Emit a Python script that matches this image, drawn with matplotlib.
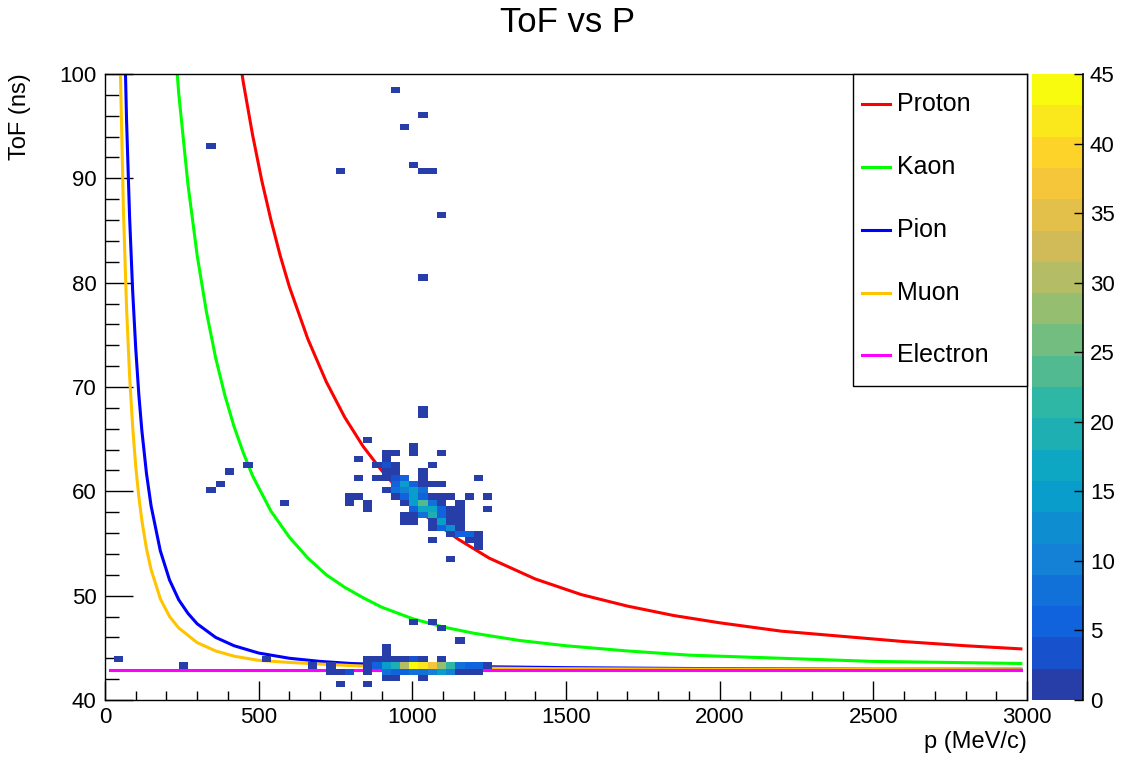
import numpy as np
import matplotlib
matplotlib.use("Agg")
import matplotlib.pyplot as plt
from matplotlib.colors import LinearSegmentedColormap, ListedColormap, BoundaryNorm
from matplotlib.lines import Line2D
from matplotlib.patches import Rectangle
from matplotlib.ticker import MultipleLocator

plt.rcParams['font.family'] = ['Liberation Sans', 'DejaVu Sans']

# ---------------- data: theory curves ----------------
proton_p = [420, 450, 480, 510, 540, 570, 600, 660, 720, 780, 840, 900, 960, 1050,
            1150, 1250, 1400, 1550, 1700, 1850, 2000, 2200, 2400, 2600, 2800, 2980]
proton_tof = [105.0, 99.2, 94.2, 89.8, 86.0, 82.6, 79.6, 74.6, 70.5, 67.1, 64.3, 62.0,
              60.0, 57.5, 55.4, 53.6, 51.6, 50.1, 49.0, 48.1, 47.4, 46.6, 46.1, 45.6,
              45.2, 44.9]

kaon_p = [210, 240, 270, 300, 330, 360, 390, 420, 450, 480, 540, 600, 660, 720, 780,
          840, 900, 1000, 1100, 1200, 1350, 1500, 1700, 1900, 2100, 2300, 2500, 2750, 2980]
kaon_tof = [109.6, 98.1, 89.4, 82.6, 77.2, 72.8, 69.2, 66.2, 63.7, 61.5, 58.1, 55.6,
            53.6, 52.0, 50.8, 49.8, 48.9, 47.8, 47.0, 46.4, 45.7, 45.2, 44.7, 44.3,
            44.1, 43.9, 43.7, 43.6, 43.5]

pion_p = [60, 70, 80, 90, 100, 110, 120, 135, 150, 180, 210, 240, 270, 300, 360, 420,
          500, 600, 700, 800, 1000, 1200, 1500, 2000, 2500, 2980]
pion_tof = [108.6, 95.7, 86.3, 79.2, 73.7, 69.3, 65.8, 61.7, 58.6, 54.3, 51.5, 49.6,
            48.3, 47.3, 46.0, 45.2, 44.5, 44.0, 43.7, 43.5, 43.3, 43.2, 43.1, 43.0,
            42.95, 42.95]

muon_p = [45, 50, 60, 70, 80, 90, 100, 110, 120, 135, 150, 180, 210, 240, 300, 360,
          420, 500, 600, 800, 1000, 1500, 2000, 2980]
muon_tof = [109.5, 100.3, 86.9, 77.7, 71.1, 66.2, 62.4, 59.5, 57.2, 54.5, 52.5, 49.7,
            48.0, 46.9, 45.5, 44.7, 44.2, 43.8, 43.6, 43.3, 43.1, 43.0, 42.95, 42.9]

electron_p = [15, 2980]
electron_tof = [42.9, 42.9]

curve_names = ["Proton", "Kaon", "Pion", "Muon", "Electron"]
curve_colors = ["#ff0000", "#00ff00", "#0000ff", "#ffc400", "#ff00ff"]

# ---------------- data: 2D histogram bins (bin centres and contents) ----------------
hist_p = [
    # isolated entries
    945, 1035, 975, 1005, 765, 1035, 1065, 1095, 345, 1035, 1035, 1035,
    345, 375, 405, 465, 585,
    1005, 1065, 1095, 1155,
    45, 255, 525, 675,
    # proton cluster
    855,
    1005,
    915, 945, 1005, 1095,
    825, 915,
    885, 915, 945, 1065,
    915, 945, 1035,
    825, 885, 915, 945, 975, 1035, 1215,
    945, 975, 1005, 1035, 1065, 1095,
    915, 945, 975, 1005, 1035,
    795, 825, 945, 975, 1005, 1035, 1065, 1095, 1125, 1185, 1245,
    795, 855, 975, 1005, 1035, 1065, 1095, 1155,
    855, 1005, 1035, 1065, 1095, 1125, 1155, 1245,
    975, 1005, 1035, 1065, 1095, 1125, 1155,
    975, 1005, 1065, 1095, 1125, 1155,
    1065, 1095, 1125, 1155,
    1125, 1155, 1185, 1215,
    1065, 1185, 1215,
    1215,
    1125,
    # light-particle cluster
    915,
    915,
    855, 885, 915, 945, 975, 1005, 1035, 1095,
    735, 855, 885, 915, 945, 975, 1005, 1035, 1065, 1095, 1125, 1155, 1185, 1215, 1245,
    735, 765, 795, 855, 915, 945, 975, 1005, 1035, 1065, 1095, 1125, 1155, 1185, 1215,
    915, 945, 1035,
    765, 855,
]
hist_tof = [
    98.5, 96.1, 94.9, 91.3, 90.7, 90.7, 90.7, 86.5, 93.1, 80.5, 67.9, 67.3,
    60.1, 60.7, 61.9, 62.5, 58.9,
    47.5, 47.5, 46.9, 45.7,
    43.9, 43.3, 43.9, 43.3,
    64.9,
    64.3,
    63.7, 63.7, 63.7, 63.7,
    63.1, 63.1,
    62.5, 62.5, 62.5, 62.5,
    61.9, 61.9, 61.9,
    61.3, 61.3, 61.3, 61.3, 61.3, 61.3, 61.3,
    60.7, 60.7, 60.7, 60.7, 60.7, 60.7,
    60.1, 60.1, 60.1, 60.1, 60.1,
    59.5, 59.5, 59.5, 59.5, 59.5, 59.5, 59.5, 59.5, 59.5, 59.5, 59.5,
    58.9, 58.9, 58.9, 58.9, 58.9, 58.9, 58.9, 58.9,
    58.3, 58.3, 58.3, 58.3, 58.3, 58.3, 58.3, 58.3,
    57.7, 57.7, 57.7, 57.7, 57.7, 57.7, 57.7,
    57.1, 57.1, 57.1, 57.1, 57.1, 57.1,
    56.5, 56.5, 56.5, 56.5,
    55.9, 55.9, 55.9, 55.9,
    55.3, 55.3, 55.3,
    54.7,
    53.5,
    45.1,
    44.5,
    43.9, 43.9, 43.9, 43.9, 43.9, 43.9, 43.9, 43.9,
    43.3, 43.3, 43.3, 43.3, 43.3, 43.3, 43.3, 43.3, 43.3, 43.3, 43.3, 43.3, 43.3, 43.3, 43.3,
    42.7, 42.7, 42.7, 42.7, 42.7, 42.7, 42.7, 42.7, 42.7, 42.7, 42.7, 42.7, 42.7, 42.7, 42.7,
    42.1, 42.1, 42.1,
    41.5, 41.5,
]
hist_counts = [
    1, 1, 1, 1, 1, 1, 1, 1, 1, 1, 1, 1,
    1, 1, 1, 1, 1,
    1, 1, 1, 1,
    1, 1, 1, 1,
    1,
    1,
    1, 1, 1, 1,
    1, 1,
    1, 4, 1, 1,
    1, 1, 1,
    1, 1, 1, 4, 6, 1, 1,
    5, 14, 6, 1, 1, 1,
    1, 7, 9, 14, 7,
    1, 1, 1, 5, 15, 6, 2, 2, 1, 1, 1,
    1, 1, 1, 15, 24, 7, 2, 1,
    1, 6, 17, 16, 6, 1, 1, 1,
    1, 1, 7, 19, 5, 1, 1,
    1, 1, 1, 15, 1, 1,
    1, 6, 13, 1,
    1, 5, 5, 1,
    1, 1, 1,
    1,
    1,
    1,
    1,
    1, 1, 1, 1, 1, 4, 1, 1,
    1, 1, 6, 15, 19, 30, 45, 42, 38, 28, 21, 7, 6, 6, 2,
    1, 1, 4, 2, 7, 6, 6, 7, 8, 10, 14, 9, 2, 2, 1,
    1, 1, 1,
    1, 1,
]

# ---------------- ROOT "bird" palette with 20 contour levels ----------------
bird_stops = [0.0, 0.125, 0.25, 0.375, 0.5, 0.625, 0.75, 0.875, 1.0]
bird_r = [0.2082, 0.0592, 0.0780, 0.0232, 0.1802, 0.5301, 0.8186, 0.9956, 0.9764]
bird_g = [0.1664, 0.3599, 0.5041, 0.6419, 0.7178, 0.7492, 0.7328, 0.7862, 0.9832]
bird_b = [0.5293, 0.8684, 0.8385, 0.7914, 0.6425, 0.4662, 0.3499, 0.1968, 0.0539]
bird = LinearSegmentedColormap.from_list(
    "bird", list(zip(bird_stops, zip(bird_r, bird_g, bird_b))), N=255)
ncont = 20
level_colors = [bird(int((i + 0.99) * 255 / ncont) / 254.0) for i in range(ncont)]
cmap = ListedColormap(level_colors)
cmap.set_over(level_colors[-1])
zmax = max(hist_counts)
norm = BoundaryNorm(np.linspace(0, zmax, ncont + 1), ncont)

# ---------------- figure ----------------
W, H = 1131, 757
fig = plt.figure(figsize=(W / 100, H / 100), dpi=100)


def fx(px):
    return px / W


def fy(py):
    return 1 - py / H


ax = fig.add_axes([fx(105), fy(700), fx(1027) - fx(105), fy(74) - fy(700)])
cax = fig.add_axes([fx(1032), fy(700), fx(1083) - fx(1032), fy(74) - fy(700)])

p_edges = np.linspace(0, 3000, 101)
t_edges = np.linspace(40, 100, 101)
H2, _, _ = np.histogram2d(hist_p, hist_tof, bins=[p_edges, t_edges], weights=hist_counts)
Hm = np.ma.masked_where(H2.T <= 0, H2.T)
mesh = ax.pcolormesh(p_edges, t_edges, Hm, cmap=cmap, norm=norm, zorder=3)

curves = [(proton_p, proton_tof), (kaon_p, kaon_tof), (pion_p, pion_tof),
          (muon_p, muon_tof), (electron_p, electron_tof)]
for (cp, ct), col in zip(curves, curve_colors):
    ax.plot(cp, ct, color=col, lw=2.2, zorder=2)

ax.set_xlim(0, 3000)
ax.set_ylim(40, 100)
ax.xaxis.set_major_locator(MultipleLocator(500))
ax.xaxis.set_minor_locator(MultipleLocator(100))
ax.yaxis.set_major_locator(MultipleLocator(10))
ax.yaxis.set_minor_locator(MultipleLocator(2))
ax.tick_params(which='both', direction='in', top=False, right=False, color='black', width=1)
ax.tick_params(axis='x', which='major', length=13.5, labelsize=16, pad=5)
ax.tick_params(axis='x', which='minor', length=6.8)
ax.tick_params(axis='y', which='major', length=20, labelsize=16, pad=6)
ax.tick_params(axis='y', which='minor', length=10)
for s in ax.spines.values():
    s.set_linewidth(1.0)

# colour bar
cb = fig.colorbar(mesh, cax=cax, ticks=list(range(0, 46, 5)))
cb.outline.set_visible(False)
cax.tick_params(axis='y', which='major', direction='in', length=6.5, width=1,
                labelsize=16, pad=5, right=True, left=False)
cax.tick_params(axis='y', which='minor', length=0)
cax.add_line(Line2D([1, 1], [0, 1], transform=cax.transAxes, color='black', lw=1.2,
                    clip_on=False))

# titles
fig.text(fx(567), fy(22), "ToF vs P", ha='center', va='center', fontsize=25)
fig.text(fx(1027), fy(742), "p (MeV/c)", ha='right', va='center', fontsize=17)
fig.text(fx(20), fy(73), "ToF (ns)", ha='center', va='top', rotation=90, fontsize=17)

# legend (ROOT TLegend style)
fig.add_artist(Rectangle((fx(853), fy(386)), fx(1027) - fx(853), fy(74) - fy(386),
                         transform=fig.transFigure, facecolor='white',
                         edgecolor='black', lw=1.0, zorder=5))
entry_y = [104, 167, 230, 293, 355]
for name, col, yy in zip(curve_names, curve_colors, entry_y):
    fig.add_artist(Line2D([fx(862), fx(890)], [fy(yy), fy(yy)], transform=fig.transFigure,
                          color=col, lw=2.2, zorder=6))
    fig.text(fx(897), fy(yy), name, ha='left', va='center', fontsize=18, zorder=6)

fig.savefig("out.png", dpi=100)
